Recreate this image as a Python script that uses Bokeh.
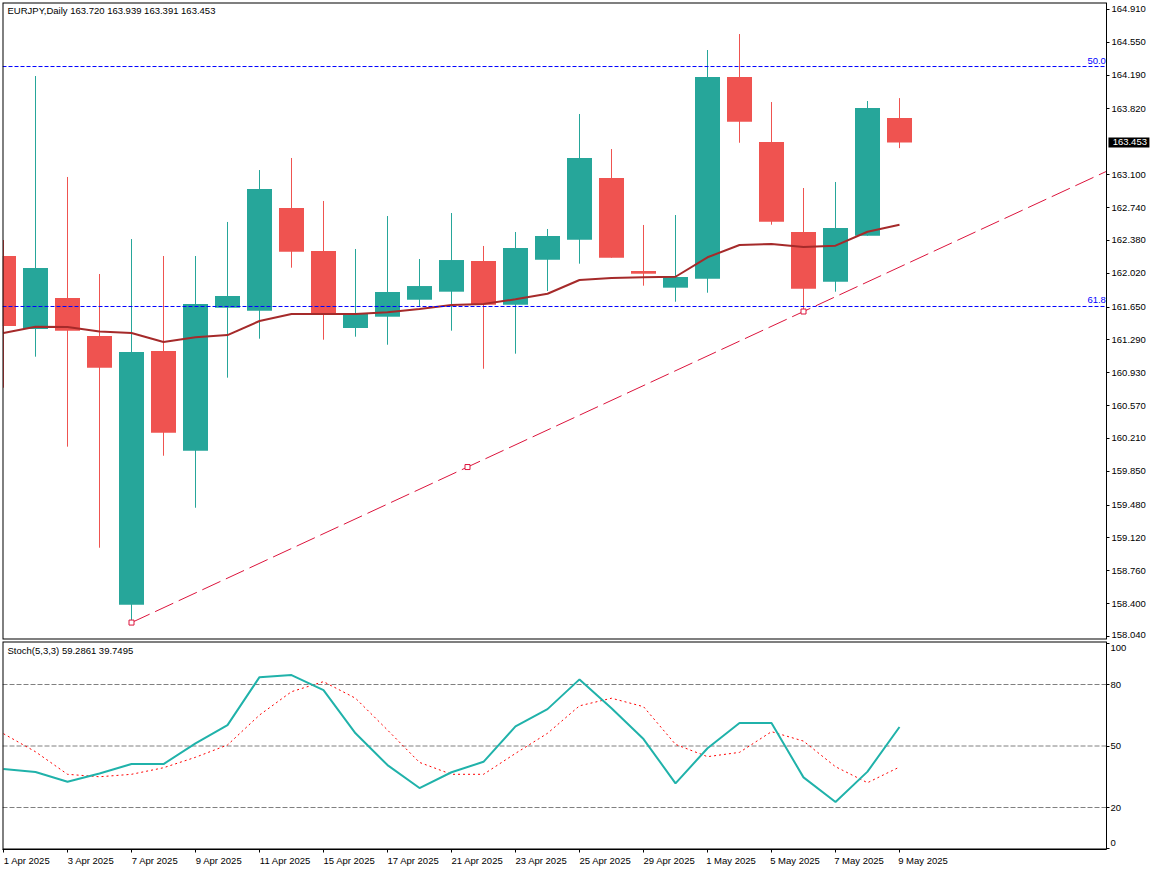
from bokeh.plotting import figure
from bokeh.layouts import column
from bokeh.models import Range1d, Label, FixedTicker, LinearAxis
from bokeh.core.properties import value
from bokeh.embed import file_html
from bokeh.resources import INLINE

# EURJPY daily candles
bars = list(range(29))
open_ = [162.209, 161.409, 161.749, 161.332, 158.388, 161.168, 160.076, 161.643, 161.610, 162.735,
         162.264, 161.420, 161.544, 161.730, 161.818, 162.154, 161.675, 162.168, 162.388, 163.064,
         162.045, 161.862, 161.960, 164.170, 163.458, 162.472, 161.927, 162.431, 163.720]
high = [162.384, 164.181, 163.075, 162.012, 162.395, 162.209, 162.209, 162.582, 163.151, 163.283,
        162.812, 162.286, 162.647, 162.176, 162.680, 162.319, 162.472, 162.505, 163.765, 163.381,
        162.549, 162.658, 164.466, 164.641, 163.896, 162.954, 163.020, 163.907, 163.939]
low = [160.766, 161.106, 160.120, 159.013, 158.199, 160.021, 159.451, 160.876, 161.303, 162.081,
       161.292, 161.325, 161.237, 161.661, 161.391, 160.974, 161.139, 161.826, 162.125, 162.190,
       161.884, 161.708, 161.807, 163.450, 162.552, 161.595, 161.818, 162.431, 163.391]
close = [161.442, 162.078, 161.391, 160.985, 161.157, 160.273, 161.683, 161.771, 162.943, 162.256,
         161.574, 161.574, 161.815, 161.880, 162.165, 161.675, 162.297, 162.428, 163.283, 162.190,
         162.015, 161.979, 164.170, 163.681, 162.585, 161.851, 162.516, 163.831, 163.453]
ma = [161.365, 161.434, 161.431, 161.382, 161.365, 161.267, 161.318, 161.343, 161.497, 161.574,
      161.574, 161.574, 161.592, 161.628, 161.672, 161.683, 161.735, 161.796, 161.946, 161.968,
      161.976, 161.982, 162.195, 162.330, 162.341, 162.308, 162.322, 162.475, 162.552]

# stochastic(5,3,3)
stoch_main = [38.8, 37.3, 32.6, 36.6, 41.2, 41.2, 51.3, 60.2, 83.6, 84.6,
              77.3, 56.2, 40.7, 29.5, 37.2, 42.3, 59.6, 68.0, 82.5, 68.4,
              53.4, 31.8, 48.9, 61.2, 61.2, 34.7, 22.7, 37.5, 59.29]
stoch_signal = [56.0, 47.2, 36.2, 35.0, 36.2, 39.4, 44.5, 50.5, 65.1, 76.5,
                81.4, 73.3, 57.8, 42.0, 36.2, 36.2, 46.4, 56.2, 69.6, 73.3,
                69.2, 50.8, 44.8, 46.9, 57.0, 52.4, 39.9, 32.1, 39.75]
stoch_levels = [20, 50, 80]
stoch_ticks = [0, 20, 50, 80, 100]
stoch_tick_labels = ["0", "20", "50", "80", "100"]

# fibo levels and the trend line
fib_levels = [164.285, 161.656]
fib_names = ["50.0", "61.8"]
trend_x = [4, 14.5, 25, 34.47]
trend_y = [158.193, 159.897, 161.601, 163.137]

# axes
price_ticks = [164.91, 164.55, 164.19, 163.82, 163.10, 162.74, 162.38, 162.02, 161.65, 161.29,
               160.93, 160.57, 160.21, 159.85, 159.48, 159.12, 158.76, 158.40, 158.04]
date_ticks = [0, 2, 4, 6, 8, 10, 12, 14, 16, 18, 20, 22, 24, 26, 28]
date_labels = ["1 Apr 2025", "3 Apr 2025", "7 Apr 2025", "9 Apr 2025", "11 Apr 2025", "15 Apr 2025",
               "17 Apr 2025", "21 Apr 2025", "23 Apr 2025", "25 Apr 2025", "29 Apr 2025", "1 May 2025",
               "5 May 2025", "7 May 2025", "9 May 2025"]
last_price = 163.453

FONT = "Liberation Sans"
FS = "9.5px"
TEAL = "#26a69a"
RED = "#ef5350"
# ranges are set half a pixel off so 1px lines land on whole pixels
X_START = -0.03125
PANEL_END = 34.47    # right border of both panels
CANVAS_END = 35.906  # frames run on under the right hand scales
PRICE_TOP = 164.9865
PRICE_BOTTOM = 158.0075
STOCH_TOP = 100.98
STOCH_BOTTOM = -0.48

axis_style = dict(major_label_text_font=FONT, major_label_text_font_size=FS, major_label_text_color="black",
                  axis_line_color="black", major_tick_line_color=None, major_tick_in=0, major_tick_out=3,
                  minor_tick_line_color="black", minor_tick_in=0, minor_tick_out=3)


def panel_edges(f, top, bottom):
    # half of the width is clipped by the frame
    f.line([PANEL_END, X_START, X_START, PANEL_END], [top, top, bottom, bottom], color="black", line_width=2)


# main panel
p = figure(width=1152, height=640, x_range=Range1d(X_START, CANVAS_END), y_range=Range1d(PRICE_BOTTOM, PRICE_TOP),
           output_backend="svg", toolbar_location=None, x_axis_location=None, y_axis_location=None,
           min_border_top=2, min_border_bottom=1, min_border_left=2, min_border_right=0)
p.grid.visible = False
p.outline_line_color = None

colors = [TEAL if c > o else RED for o, c in zip(open_, close)]
tops = [max(o, c) for o, c in zip(open_, close)]
bottoms = [min(o, c) for o, c in zip(open_, close)]
p.segment(bars, low, bars, high, color=colors, line_width=1)
p.vbar(x=bars, width=0.78125, top=tops, bottom=bottoms, fill_color=colors, line_color=None)
p.line(bars, ma, color="#a52a2a", line_width=2)

for level, name in zip(fib_levels, fib_names):
    p.line([X_START, PANEL_END], [level, level], color="#0000ff", line_width=1, line_dash=[4, 2])
    p.text([34.45], [level], text=[name], text_color="#0000ff", text_font=value(FONT), text_font_size=FS,
           text_align="right", text_baseline="bottom", y_offset=-3)

p.line(trend_x, trend_y, color="#dc143c", line_width=1, line_dash=[20, 6])
p.scatter(trend_x[:3], trend_y[:3], marker="square", size=5, fill_color="white", line_color="#dc143c")
panel_edges(p, PRICE_TOP, PRICE_BOTTOM)

# price scale, the lowest label is lifted to stay in its panel
label_ticks = price_ticks[:-1] + [158.06]
p.add_layout(LinearAxis(fixed_location=PANEL_END, ticker=FixedTicker(ticks=label_ticks, minor_ticks=price_ticks),
                        major_label_overrides={v: "%.3f" % t for v, t in zip(label_ticks, price_ticks)},
                        major_label_standoff=2, **axis_style), "right")

p.hbar(y=[last_price], left=[34.53], right=[35.81], height=0.11, fill_color="black", line_color=None)
p.text([34.66], [last_price], text=["%.3f" % last_price], text_color="white", text_font=value(FONT), text_font_size=FS,
       text_align="left", text_baseline="middle")

p.add_layout(Label(x=5, y=629, x_units="screen", y_units="screen", text="EURJPY,Daily  163.720 163.939 163.391 163.453",
                   text_font=FONT, text_font_size=FS, text_color="black", text_baseline="middle"))

# stochastic panel
s = figure(width=1152, height=230, x_range=Range1d(X_START, CANVAS_END), y_range=Range1d(STOCH_BOTTOM, STOCH_TOP),
           output_backend="svg", toolbar_location=None, x_axis_location=None, y_axis_location=None,
           min_border_top=1, min_border_bottom=21, min_border_left=2, min_border_right=0)
s.grid.visible = False
s.outline_line_color = None

date_pos = [round(t + len(l) * 4.7 / 2 / 32, 3) for t, l in zip(date_ticks, date_labels)]
s.add_layout(LinearAxis(bounds=(X_START, PANEL_END), ticker=FixedTicker(ticks=date_pos, minor_ticks=date_ticks),
                        major_label_overrides=dict(zip(date_pos, date_labels)),
                        major_label_standoff=2, **axis_style), "below")

# 0 and 100 sit on the panel edges, their labels are pulled in from the tick marks
stoch_pos = [2.9, 20, 50, 80, 97.7]
s.add_layout(LinearAxis(fixed_location=PANEL_END, ticker=FixedTicker(ticks=stoch_pos, minor_ticks=stoch_ticks),
                        major_label_overrides=dict(zip(stoch_pos, stoch_tick_labels)),
                        major_label_standoff=1, **axis_style), "right")

for level in stoch_levels:
    s.line([X_START, PANEL_END], [level, level], color="#808080", line_width=1, line_dash=[5, 2])
s.line(bars, stoch_signal, color="#ff0000", line_width=1, line_dash=[2, 3])
s.line(bars, stoch_main, color="#20b2aa", line_width=2)
panel_edges(s, STOCH_TOP, STOCH_BOTTOM)

s.add_layout(Label(x=5, y=199, x_units="screen", y_units="screen", text="Stoch(5,3,3) 59.2861 39.7495",
                   text_font=FONT, text_font_size=FS, text_color="black", text_baseline="middle"))

page = column(p, s, spacing=0)
open("out.html", "w").write(file_html(page, INLINE))
